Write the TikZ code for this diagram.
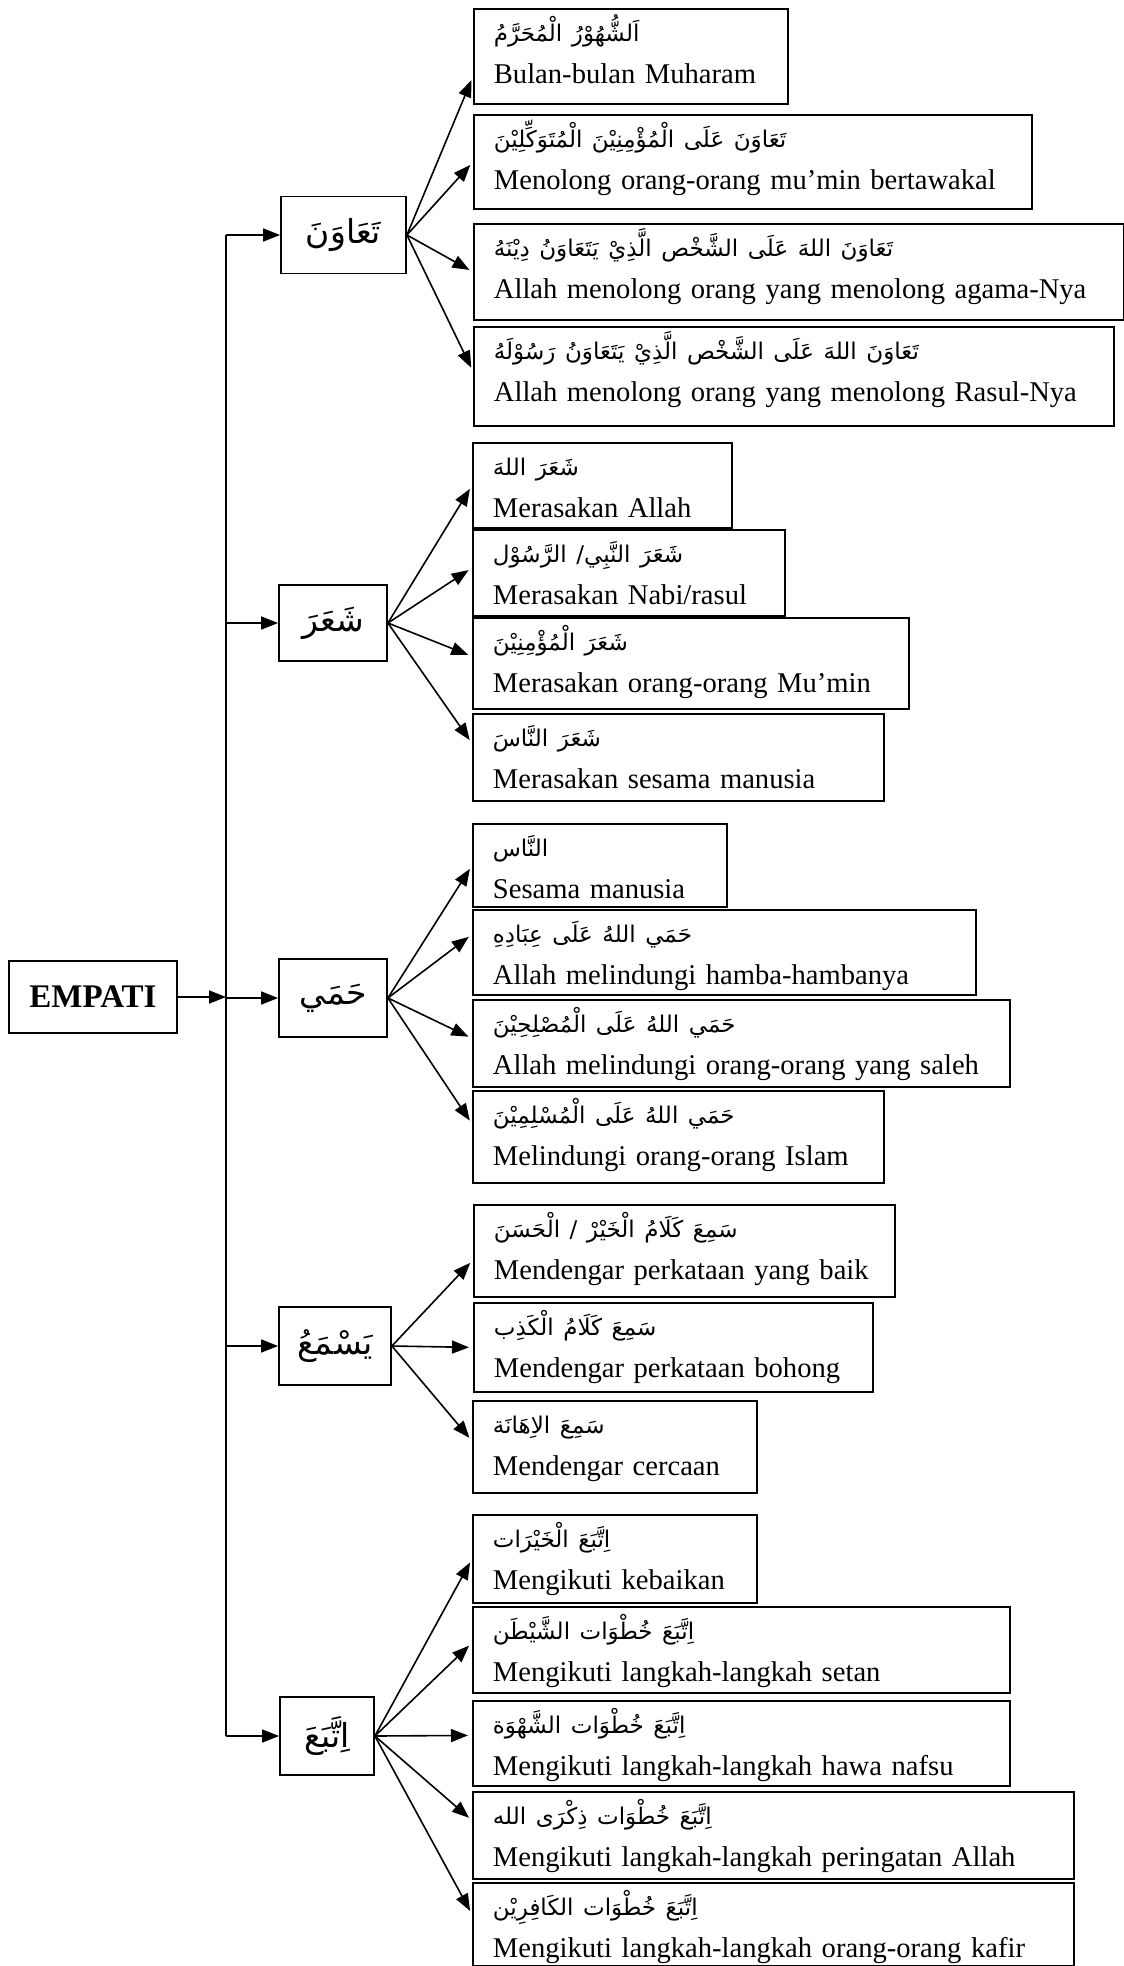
\documentclass[tikz,border=0pt]{standalone}
\usepackage{fontspec}
\setmainfont{Liberation Serif}
\newfontfamily\arabicfont[Script=Arabic]{DejaVu Sans}
\TeXXeTstate=1
\usetikzlibrary{arrows.meta}

\newcommand{\artxt}[1]{{\arabicfont\fontsize{23}{42}\selectfont\beginR #1\endR}}
\newcommand{\catxt}[1]{{\arabicfont\fontsize{33}{38}\selectfont\beginR #1\endR}}

\begin{document}
\begin{tikzpicture}[x=1pt,y=-1pt,
  leafbox/.style={draw,line width=1.8pt,anchor=north west,align=left,inner xsep=20pt,inner ysep=0pt,text height=33pt,font=\fontsize{28.6}{42}\selectfont},
  catbox/.style={draw,line width=1.8pt,inner sep=0pt},
  rootbox/.style={draw,line width=1.8pt,inner sep=0pt,font=\fontsize{33}{36}\selectfont\bfseries},
  arr/.style={line width=1.6pt,-{Triangle[length=17pt,width=13pt]}},
  leafarr/.style={arr,shorten >=4pt}]

\useasboundingbox (0,0) rectangle (1124,1966);

%root and the five verbs
\node[rootbox,minimum width=168pt,minimum height=72pt] (empati) at (93,997) {EMPATI};
\node[catbox,minimum width=125pt,minimum height=77pt] (tawun) at (343.5,235) {\catxt{تَعَاوَنَ}};
\node[catbox,minimum width=108pt,minimum height=76pt] (syaara) at (333,623) {\catxt{شَعَرَ}};
\node[catbox,minimum width=108pt,minimum height=78pt] (hamy) at (333,998) {\catxt{حَمَي}};
\node[catbox,minimum width=112pt,minimum height=78pt] (yasma) at (335,1346) {\catxt{يَسْمَعُ}};
\node[catbox,minimum width=94pt,minimum height=78pt] (ittiba) at (327,1736) {\catxt{اِتَّبَعَ}};

%trunk line
\coordinate (trunk) at (226,0);
\coordinate (j1) at (tawun.west -| trunk);
\coordinate (j5) at (ittiba.west -| trunk);
\coordinate (jm) at (empati.east -| trunk);
\draw[line width=1.6pt] (j1) -- (j5);
\draw[arr] (empati.east) -- (jm);
\foreach \c in {tawun,syaara,hamy,yasma,ittiba}
  \draw[arr] (\c.west -| trunk) -- (\c.west);

%ta'awun
\node[leafbox,text width=274pt,text depth=62pt] (t1) at (473,8) {\artxt{اَلشُّهُوْرُ الْمُحَرَّمُ}\\Bulan-bulan Muharam};
\node[leafbox,text width=518pt,text depth=61pt] (t2) at (473,114) {\artxt{تَعَاوَنَ عَلَى الْمُؤْمِنِيْنَ الْمُتَوَكِّلِيْنَ}\\Menolong orang-orang mu’min bertawakal};
\node[leafbox,text width=610pt,text depth=63pt] (t3) at (473,223) {\artxt{تَعَاوَنَ اللهَ عَلَى الشَّخْص الَّذِيْ يَتَعَاوَنُ دِيْنَهُ}\\Allah menolong orang yang menolong agama-Nya};
\node[leafbox,text width=600pt,text depth=66pt] (t4) at (473,326) {\artxt{تَعَاوَنَ اللهَ عَلَى الشَّخْص الَّذِيْ يَتَعَاوَنُ رَسُوْلَهُ}\\Allah menolong orang yang menolong Rasul-Nya};
\draw[leafarr] (tawun.east) -- ([yshift=-20pt]t1.west);
\draw[leafarr] (tawun.east) -- (t2.west);
\draw[leafarr] (tawun.east) -- (t3.west);
\draw[leafarr] (tawun.east) -- ([yshift=5pt]t4.west);

%sya'ara
\node[leafbox,text width=219pt,text depth=52pt] (s1) at (472,442) {\artxt{شَعَرَ اللهَ}\\Merasakan Allah};
\node[leafbox,text width=272pt,text depth=53pt] (s2) at (472,529) {\artxt{شَعَرَ النَّبِي/ الرَّسُوْل}\\Merasakan Nabi/rasul};
\node[leafbox,text width=396pt,text depth=58pt] (s3) at (472,617) {\artxt{شَعَرَ الْمُؤْمِنِيْنَ}\\Merasakan orang-orang Mu’min};
\node[leafbox,text width=371pt,text depth=54pt] (s4) at (472,713) {\artxt{شَعَرَ النَّاسَ}\\Merasakan sesama manusia};
\draw[leafarr] (syaara.east) -- (s1.west);
\draw[leafarr] (syaara.east) -- ([yshift=5pt]s2.west);
\draw[leafarr] (syaara.east) -- ([yshift=7pt]s3.west);
\draw[leafarr] (syaara.east) -- ([yshift=14pt]s4.west);

%hamy
\node[leafbox,text width=214pt,text depth=50pt] (h1) at (472,823) {\artxt{النَّاس}\\Sesama manusia};
\node[leafbox,text width=463pt,text depth=52pt] (h2) at (472,909) {\artxt{حَمَي اللهُ عَلَى عِبَادِهِ}\\Allah melindungi hamba-hambanya};
\node[leafbox,text width=497pt,text depth=54pt] (h3) at (472,999) {\artxt{حَمَي اللهُ عَلَى الْمُصْلِحِيْنَ}\\Allah melindungi orang-orang yang saleh};
\node[leafbox,text width=371pt,text depth=59pt] (h4) at (472,1090) {\artxt{حَمَي اللهُ عَلَى الْمُسْلِمِيْنَ}\\Melindungi orang-orang Islam};
\draw[leafarr] (hamy.east) -- (h1.west);
\draw[leafarr] (hamy.east) -- ([yshift=18pt]h2.west);
\draw[leafarr] (hamy.east) -- ([yshift=5pt]h3.west);
\draw[leafarr] (hamy.east) -- ([yshift=13pt]h4.west);

%yasma'u
\node[leafbox,text width=381pt,text depth=59pt] (y1) at (473,1204) {\artxt{سَمِعَ كَلَامُ الْخَيْرْ / الْحَسَنَ}\\Mendengar perkataan yang baik};
\node[leafbox,text width=359pt,text depth=56pt] (y2) at (473,1302) {\artxt{سَمِعَ كَلَامُ الْكَذِب}\\Mendengar perkataan bohong};
\node[leafbox,text width=244pt,text depth=59pt] (y3) at (472,1400) {\artxt{سَمِعَ الاِهَانَة}\\Mendengar cercaan};
\draw[leafarr] (yasma.east) -- ([yshift=-9pt]y1.west);
\draw[leafarr] (yasma.east) -- (y2.west);
\draw[leafarr] (yasma.east) -- ([yshift=6pt]y3.west);

%ittaba'a
\node[leafbox,text width=244pt,text depth=55pt] (i1) at (472,1514) {\artxt{اِتَّبَعَ الْخَيْرَات}\\Mengikuti kebaikan};
\node[leafbox,text width=497pt,text depth=53pt] (i2) at (472,1606) {\artxt{اِتَّبَعَ خُطْوَات الشَّيْطَن}\\Mengikuti langkah-langkah setan};
\node[leafbox,text width=497pt,text depth=52pt] (i3) at (472,1700) {\artxt{اِتَّبَعَ خُطْوَات الشَّهْوَة}\\Mengikuti langkah-langkah hawa nafsu};
\node[leafbox,text width=561pt,text depth=54pt] (i4) at (472,1791) {\artxt{اِتَّبَعَ خُطْوَات ذِكْرَى الله}\\Mengikuti langkah-langkah peringatan Allah};
\node[leafbox,text width=561pt,text depth=50pt] (i5) at (472,1882) {\artxt{اِتَّبَعَ خُطْوَات الكَافِرِيْن}\\Mengikuti langkah-langkah orang-orang kafir};
\draw[leafarr] (ittiba.east) -- (i1.west);
\draw[leafarr] (ittiba.east) -- ([yshift=7pt]i2.west);
\draw[leafarr] (ittiba.east) -- ([yshift=8pt]i3.west);
\draw[leafarr] (ittiba.east) -- ([yshift=15pt]i4.west);
\draw[leafarr] (ittiba.east) -- ([yshift=10pt]i5.west);

\end{tikzpicture}
\end{document}
